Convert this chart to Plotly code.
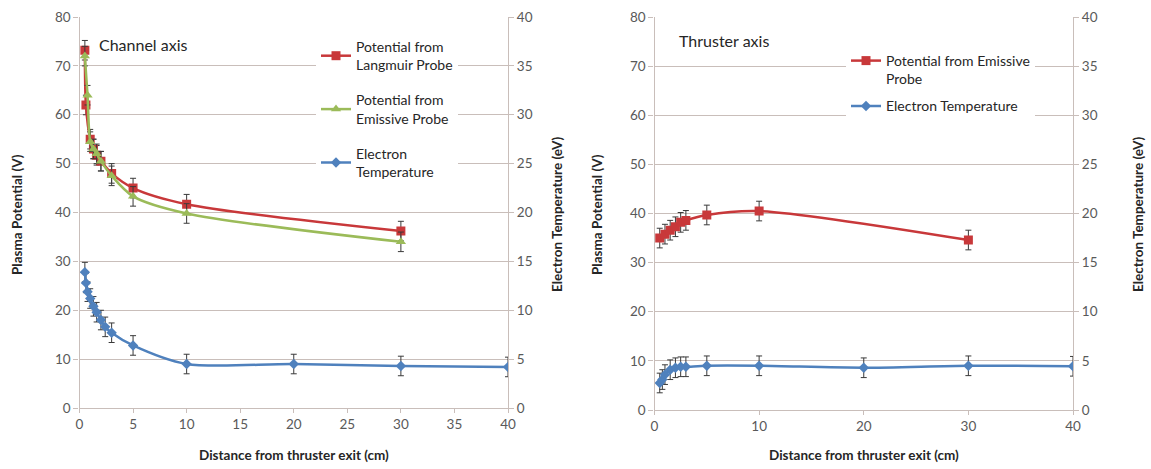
import plotly.graph_objects as go

# ---- data: Channel axis (left panel)
ch_lp_x = [0.5, 0.6, 1, 1.3, 1.6, 2, 3, 5, 10, 30]
ch_lp_y = [73.2, 62, 55, 53, 51.7, 50.5, 48, 45, 41.7, 36.2]
ch_ep_x = [0.5, 0.75, 1, 1.3, 1.6, 2, 3, 5, 10, 30]
ch_ep_y = [72, 64, 54.5, 53, 52, 50.5, 47.5, 43.3, 39.8, 34]
ch_te_x = [0.5, 0.6, 0.75, 1, 1.3, 1.6, 2, 2.4, 3, 5, 10, 20, 30, 40]
ch_te_y = [13.9, 12.8, 11.9, 11.2, 10.4, 9.8, 9.0, 8.3, 7.7, 6.4, 4.5, 4.5, 4.3, 4.2]

# ---- data: Thruster axis (right panel)
th_ep_x = [0.5, 1, 1.5, 2, 2.5, 3, 5, 10, 30]
th_ep_y = [35.0, 35.8, 36.6, 37.3, 38.2, 38.6, 39.7, 40.5, 34.6]
th_te_x = [0.5, 0.75, 1, 1.5, 2, 2.5, 3, 5, 10, 20, 30, 40]
th_te_y = [2.75, 3.1, 3.6, 4.1, 4.3, 4.4, 4.4, 4.5, 4.5, 4.3, 4.5, 4.45]

pot_err = 2.0
te_err = 1.0

RED = "#C8383A"
GREEN = "#9BBB59"
BLUE = "#4F81BD"
GRID = "#C9BEBA"
TXT = "#595959"
FONT = "Lato"

W, H = 1151, 469

def px_x(p):
    return p / W

def px_y(p):
    return 1 - p / H

def err(v):
    return dict(type="constant", value=v, color="#3A3A3A", thickness=1, width=3)

fig = go.Figure()

fig.add_trace(go.Scatter(
    x=ch_lp_x, y=ch_lp_y, name="Potential from<br>Langmuir Probe",
    mode="lines+markers", line=dict(color=RED, width=2.5, shape="spline", smoothing=0.8),
    marker=dict(symbol="square", size=9, color=RED), error_y=err(pot_err),
    xaxis="x", yaxis="y", legend="legend", legendgroup="a"))
fig.add_trace(go.Scatter(
    x=ch_ep_x, y=ch_ep_y, name="Potential from<br>Emissive Probe",
    mode="lines+markers", line=dict(color=GREEN, width=2.5, shape="spline", smoothing=0.8),
    marker=dict(symbol="triangle-up", size=9, color=GREEN), error_y=err(pot_err),
    xaxis="x", yaxis="y", legend="legend", legendgroup="b"))
fig.add_trace(go.Scatter(
    x=ch_te_x, y=ch_te_y, name="Electron<br>Temperature",
    mode="lines+markers", line=dict(color=BLUE, width=2.5, shape="spline", smoothing=0.8),
    marker=dict(symbol="diamond", size=8, color=BLUE), error_y=err(te_err),
    xaxis="x", yaxis="y2", legend="legend", legendgroup="c"))

fig.add_trace(go.Scatter(
    x=th_ep_x, y=th_ep_y, name="Potential from Emissive<br>Probe",
    mode="lines+markers", line=dict(color=RED, width=2.5, shape="spline", smoothing=0.8),
    marker=dict(symbol="square", size=9, color=RED), error_y=err(pot_err),
    xaxis="x2", yaxis="y3", legend="legend2", legendgroup="d"))
fig.add_trace(go.Scatter(
    x=th_te_x, y=th_te_y, name="Electron Temperature",
    mode="lines+markers", line=dict(color=BLUE, width=2.5, shape="spline", smoothing=0.8),
    marker=dict(symbol="diamond", size=8, color=BLUE), error_y=err(te_err),
    xaxis="x2", yaxis="y4", legend="legend2", legendgroup="e"))

tickfont = dict(family=FONT, size=13.5, color=TXT)
common_x = dict(showgrid=False, showline=True, linecolor=GRID, linewidth=1.2,
                ticks="outside", ticklen=4, tickcolor=GRID, tickfont=tickfont,
                zeroline=False, automargin=False, fixedrange=True)
common_y = dict(showline=True, linecolor=GRID, linewidth=1.2, ticks="outside",
                ticklen=5, tickcolor=GRID, tickfont=tickfont, zeroline=False,
                automargin=False)

L0, L1 = px_x(79.5), px_x(508)
R0, R1 = px_x(654.5), px_x(1073)

fig.update_layout(
    width=W, height=H,
    margin=dict(l=0, r=0, t=0, b=0),
    paper_bgcolor="white", plot_bgcolor="white",
    font=dict(family=FONT, color="#262626"),
    xaxis=dict(domain=[L0, L1], range=[0, 40], dtick=5, anchor="y", **common_x),
    yaxis=dict(domain=[px_y(408), px_y(17)], range=[0, 80], dtick=10,
               showgrid=True, gridcolor=GRID, gridwidth=1.2, anchor="x", **common_y),
    yaxis2=dict(range=[0, 40], dtick=5, overlaying="y", side="right", anchor="x",
                showgrid=False, **common_y),
    xaxis2=dict(domain=[R0, R1], range=[0, 40], dtick=10, anchor="y3", **common_x),
    yaxis3=dict(domain=[px_y(410), px_y(17)], range=[0, 80], dtick=10,
                showgrid=True, gridcolor=GRID, gridwidth=1.2, anchor="x2", **common_y),
    yaxis4=dict(range=[0, 40], dtick=5, overlaying="y3", side="right", anchor="x2",
                showgrid=False, **common_y),
    legend=dict(x=px_x(316), y=px_y(31), xanchor="left", yanchor="top",
                bgcolor="white", font=dict(family=FONT, size=14, color="#262626"),
                tracegroupgap=14, itemwidth=30, valign="middle"),
    legend2=dict(x=px_x(846), y=px_y(45), xanchor="left", yanchor="top",
                 bgcolor="white", font=dict(family=FONT, size=14, color="#262626"),
                 tracegroupgap=6, itemwidth=30, valign="top"),
    showlegend=True,
)

ann = []
def a(text, x, y, size=13.5, bold=True, angle=0, xanchor="center"):
    ann.append(dict(text=("<b>%s</b>" % text) if bold else text,
                    x=px_x(x), y=px_y(y), xref="paper", yref="paper",
                    showarrow=False, textangle=angle, xanchor=xanchor, yanchor="middle",
                    font=dict(family=FONT, size=size, color="#262626")))

a("Channel axis", 97, 44, size=16, bold=False, xanchor="left")
a("Thruster axis", 677, 41, size=16, bold=False, xanchor="left")
a("Plasma Potential (V)", 17, 215, angle=-90)
a("Electron Temperature (eV)", 557, 215, angle=-90)
a("Plasma Potential (V)", 597, 215, angle=-90)
a("Electron Temperature (eV)", 1138, 215, angle=-90)
a("Distance from thruster exit (cm)", 294, 455)
a("Distance from thruster exit (cm)", 864, 455)
fig.update_layout(annotations=ann)

fig.write_html("out.html")
